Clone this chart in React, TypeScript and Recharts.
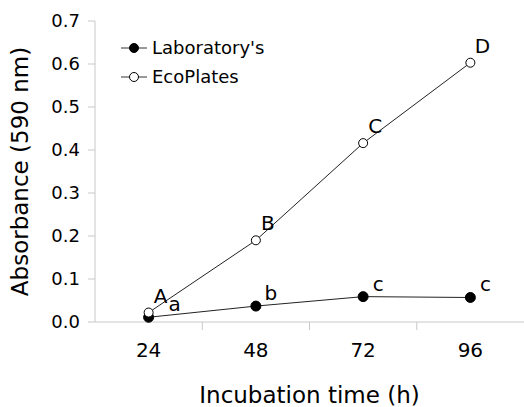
import { LineChart, Line, XAxis, YAxis, LabelList } from "recharts";

// Incubation times (h) and absorbance at 590 nm
const hours = [24, 48, 72, 96];
const laboratory = [0.011, 0.037, 0.059, 0.057];
const ecoPlates = [0.022, 0.19, 0.416, 0.603];
const labLetters = ["a", "b", "c", "c"];
const ecoLetters = ["A", "B", "C", "D"];
const yTicks = [0, 0.1, 0.2, 0.3, 0.4, 0.5, 0.6, 0.7];
const xTicks = [24, 36, 48, 60, 72, 84, 96];

const FONT = "Verdana, 'DejaVu Sans', sans-serif";
const AXIS = "#c8c8c8";

const data = hours.map((h, i) => ({
  hour: h,
  lab: laboratory[i],
  eco: ecoPlates[i],
  labLetter: labLetters[i],
  ecoLetter: ecoLetters[i],
}));

// x ticks: labels at the categories, small marks between them
function XTick(props: any) {
  const { x, y, payload } = props;
  if (hours.includes(payload.value)) {
    return (
      <text x={x} y={y + 27} textAnchor="middle" fontSize={20} fontFamily={FONT} fill="#000">
        {payload.value}
      </text>
    );
  }
  return <line x1={x} x2={x} y1={y - 8} y2={y} stroke={AXIS} />;
}

function letterLabel(dx: number, dy: number) {
  return (props: any) => {
    const { x, y, value, index } = props;
    // the first lower-case letter sits further right, clear of "A"
    const extra = value === "a" && index === 0 ? 11 : 0;
    return (
      <text x={x + dx + extra} y={y + dy} textAnchor="middle" fontSize={20} fontFamily={FONT} fill="#000">
        {value}
      </text>
    );
  };
}

function Legend() {
  const rows = [
    { name: "Laboratory's", fill: "#000", y: 48 },
    { name: "EcoPlates", fill: "#fff", y: 77 },
  ];
  return (
    <svg style={{ position: "absolute", left: 0, top: 0 }} width={524} height={407}>
      {rows.map((r) => (
        <g key={r.name}>
          <line x1={121} x2={147} y1={r.y} y2={r.y} stroke="#333" />
          <circle cx={134} cy={r.y} r={4.5} fill={r.fill} stroke="#000" />
          <text x={152} y={r.y + 6} fontSize={18} fontFamily={FONT} fill="#000">
            {r.name}
          </text>
        </g>
      ))}
    </svg>
  );
}

export default function App() {
  return (
    <div style={{ position: "absolute", left: 0, top: 0, width: 524, height: 407, background: "#fff" }}>
      <LineChart width={524} height={407} data={data} margin={{ top: 21, right: 0, left: 0, bottom: 45 }}>
        <XAxis
          dataKey="hour"
          type="number"
          domain={[12, 108]}
          ticks={xTicks}
          tick={<XTick />}
          tickLine={false}
          stroke={AXIS}
          height={40}
          interval={0}
          label={{
            value: "Incubation time (h)",
            position: "insideBottom",
            offset: -41,
            style: { fontSize: 23, fontFamily: FONT, fill: "#000" },
          }}
        />
        <YAxis
          type="number"
          domain={[0, 0.7]}
          ticks={yTicks}
          width={95}
          stroke={AXIS}
          tickSize={7}
          tickMargin={8}
          tickFormatter={(v: number) => v.toFixed(1)}
          tick={{ fontSize: 18, fontFamily: FONT, fill: "#000" }}
          label={{
            value: "Absorbance (590 nm)",
            angle: -90,
            position: "insideLeft",
            offset: 20,
            style: { textAnchor: "middle", fontSize: 23, fontFamily: FONT, fill: "#000" },
          }}
        />
        <Line
          dataKey="lab"
          stroke="#222"
          strokeWidth={1}
          dot={{ r: 5, fill: "#000", stroke: "#000", strokeWidth: 1 }}
          isAnimationActive={false}
        >
          <LabelList dataKey="labLetter" content={letterLabel(15, -6)} />
        </Line>
        <Line
          dataKey="eco"
          stroke="#222"
          strokeWidth={1}
          dot={{ r: 4.5, fill: "#fff", stroke: "#000", strokeWidth: 1 }}
          isAnimationActive={false}
        >
          <LabelList dataKey="ecoLetter" content={letterLabel(12, -10)} />
        </Line>
      </LineChart>
      <Legend />
    </div>
  );
}
